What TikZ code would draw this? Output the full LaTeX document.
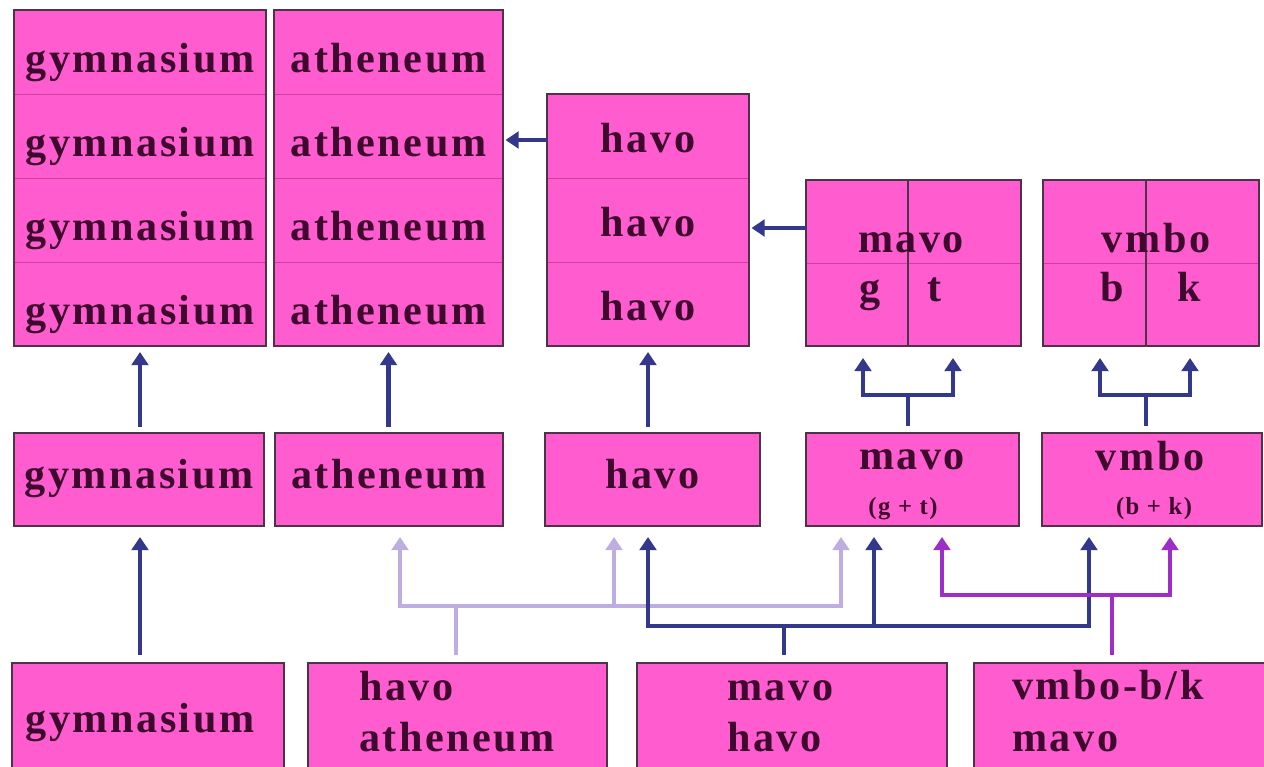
\documentclass[tikz,border=0pt]{standalone}
\usepackage{fontspec}
\setmainfont{Liberation Serif}
\newfontfamily\boxfont[LetterSpace=6]{Liberation Serif Bold}
\usepackage{tikz}
\usetikzlibrary{arrows.meta,positioning,calc}
\definecolor{ffqqcc}{rgb}{1,0.36,0.81}
\definecolor{ccttaa}{rgb}{0.80,0.25,0.62}
\definecolor{uuttuu}{rgb}{0.30,0.20,0.28}
\definecolor{qqqqtt}{rgb}{0.24,0.04,0.18}
\definecolor{ttttcc}{rgb}{0.20,0.22,0.55}
\definecolor{ccbbee}{rgb}{0.74,0.68,0.88}
\definecolor{aattcc}{rgb}{0.62,0.18,0.78}
\tikzset{
  cell/.style={draw=ccttaa,line width=0.5pt,fill=ffqqcc,text=qqqqtt,inner sep=0pt,outer sep=0pt,
    minimum height=1.68cm,font=\boxfont\fontsize{24}{28}\selectfont,text height=0.84cm,text depth=0pt},
  box/.style={draw=uuttuu,line width=1.1pt,fill=ffqqcc,text=qqqqtt,inner sep=0pt,outer sep=0pt,
    font=\boxfont\fontsize{24}{28}\selectfont},
  midbox/.style={box,minimum height=1.86cm,text height=0.36cm,text depth=0pt},
  lowbox/.style={box,minimum height=2.30cm},
  frame/.style={draw=uuttuu,line width=1.1pt},
  lbl/.style={text=qqqqtt,inner sep=0pt,font=\boxfont\fontsize{24}{28}\selectfont},
  sublbl/.style={text=qqqqtt,inner sep=0pt,font=\boxfont\fontsize{14}{16}\selectfont},
  conn/.style={line width=2.4pt},
  tip/.style={-{Triangle[length=7.5pt,width=9.5pt]}}
}
\begin{document}
\begin{tikzpicture}[line cap=butt,line join=miter,x=1.0cm,y=1.0cm]
  \useasboundingbox (0,0) rectangle (25.28,15.32);
  \clip (0,0) rectangle (25.28,15.32);
  % upper stacks
  \node[cell,minimum width=5.04cm] (gymA) at (2.80,14.28) {gymnasium};
  \node[cell,minimum width=5.04cm,below=0pt of gymA] (gymB) {gymnasium};
  \node[cell,minimum width=5.04cm,below=0pt of gymB] (gymC) {gymnasium};
  \node[cell,minimum width=5.04cm,below=0pt of gymC] (gymD) {gymnasium};
  \draw[frame] (gymA.north west) rectangle (gymD.south east);
  \node[cell,minimum width=4.58cm] (athA) at (7.77,14.28) {atheneum};
  \node[cell,minimum width=4.58cm,below=0pt of athA] (athB) {atheneum};
  \node[cell,minimum width=4.58cm,below=0pt of athB] (athC) {atheneum};
  \node[cell,minimum width=4.58cm,below=0pt of athC] (athD) {atheneum};
  \draw[frame] (athA.north west) rectangle (athD.south east);
  \node[cell,minimum width=4.04cm,text height=0.68cm] (havoA) at (12.96,12.60) {havo};
  \node[cell,minimum width=4.04cm,text height=0.68cm,below=0pt of havoA] (havoB) {havo};
  \node[cell,minimum width=4.04cm,text height=0.68cm,below=0pt of havoB] (havoC) {havo};
  \draw[frame] (havoA.north west) rectangle (havoC.south east);
  % mavo and vmbo grids
  \node[cell,minimum width=2.04cm,minimum height=1.66cm,anchor=north west] (mavoTL) at (16.12,11.72) {};
  \node[cell,minimum width=2.26cm,minimum height=1.66cm,right=0pt of mavoTL] (mavoTR) {};
  \node[cell,minimum width=2.04cm,minimum height=1.66cm,below=0pt of mavoTL] (mavoBL) {};
  \node[cell,minimum width=2.26cm,minimum height=1.66cm,below=0pt of mavoTR] (mavoBR) {};
  \draw[frame] (mavoTL.north west) rectangle (mavoBR.south east);
  \draw[draw=uuttuu,line width=0.8pt] (mavoTL.north east) -- (mavoBL.south east);
  \node[lbl,anchor=base] (mavoName) at (18.22,10.27) {mavo};
  \node[lbl,anchor=base] (mavoG) at (17.40,9.28) {g};
  \node[lbl,anchor=base] (mavoT) at (18.70,9.28) {t};
  \node[cell,minimum width=2.06cm,minimum height=1.66cm,anchor=north west] (vmboTL) at (20.86,11.72) {};
  \node[cell,minimum width=2.26cm,minimum height=1.66cm,right=0pt of vmboTL] (vmboTR) {};
  \node[cell,minimum width=2.06cm,minimum height=1.66cm,below=0pt of vmboTL] (vmboBL) {};
  \node[cell,minimum width=2.26cm,minimum height=1.66cm,below=0pt of vmboTR] (vmboBR) {};
  \draw[frame] (vmboTL.north west) rectangle (vmboBR.south east);
  \draw[draw=uuttuu,line width=0.8pt] (vmboTL.north east) -- (vmboBL.south east);
  \node[lbl,anchor=base] (vmboName) at (23.12,10.27) {vmbo};
  \node[lbl,anchor=base] (vmboB) at (22.24,9.28) {b};
  \node[lbl,anchor=base] (vmboK) at (23.78,9.28) {k};
  % middle row
  \node[midbox,minimum width=5.00cm] (gymM) at (2.78,5.73) {gymnasium};
  \node[midbox,minimum width=4.56cm] (athM) at (7.78,5.73) {atheneum};
  \node[midbox,minimum width=4.30cm] (havoM) at (13.05,5.73) {havo};
  \node[midbox,minimum width=4.26cm] (mavoM) at (18.25,5.73) {};
  \node[lbl,anchor=base] (mavoMName) at (18.24,5.92) {mavo};
  \node[sublbl,anchor=base] (mavoMSub) at (18.06,5.02) {(g + t)};
  \node[midbox,minimum width=4.40cm] (vmboM) at (23.04,5.73) {};
  \node[lbl,anchor=base] (vmboMName) at (23.00,5.90) {vmbo};
  \node[sublbl,anchor=base] (vmboMSub) at (23.08,5.02) {(b + k)};
  % lower row
  \node[lowbox,minimum width=5.44cm] (gymLow) at (2.96,0.91) {};
  \node[lbl,anchor=base] (gymLowName) at (2.80,0.68) {gymnasium};
  \node[lowbox,minimum width=5.98cm] (havoAth) at (9.15,0.91) {};
  \node[lbl,anchor=base west] (havoAthA) at (7.18,1.32) {havo};
  \node[lbl,anchor=base west] (havoAthB) at (7.18,0.30) {atheneum};
  \node[lowbox,minimum width=6.20cm] (mavoHavo) at (15.84,0.91) {};
  \node[lbl,anchor=base west] (mavoHavoA) at (14.54,1.32) {mavo};
  \node[lbl,anchor=base west] (mavoHavoB) at (14.54,0.30) {havo};
  \node[lowbox,minimum width=5.92cm] (vmboMavo) at (22.44,0.91) {};
  \node[lbl,anchor=base west] (vmboMavoA) at (20.24,1.34) {vmbo-b/k};
  \node[lbl,anchor=base west] (vmboMavoB) at (20.24,0.30) {mavo};
  % sideways arrows
  \draw[conn,ttttcc,tip,shorten >=0.05cm] ([yshift=-0.08cm]havoA.west) -- ([yshift=-0.08cm]havoA.west -| athB.east);
  \draw[conn,ttttcc,tip,shorten >=0.05cm] ([yshift=-0.13cm]mavoTL.west) -- ([yshift=-0.13cm]mavoTL.west -| havoB.east);
  % middle to upper
  \draw[conn,ttttcc,tip,shorten <=0.12cm,shorten >=0.12cm] (gymD.south |- gymM.north) -- (gymD.south);
  \draw[conn,ttttcc,tip,shorten <=0.12cm,shorten >=0.12cm] (athD.south |- athM.north) -- (athD.south);
  \draw[conn,ttttcc,tip,shorten <=0.12cm,shorten >=0.12cm] (havoC.south |- havoM.north) -- (havoC.south);
  \coordinate (mavoJ) at ($(mavoBL.south east)+(0,-0.98)$);
  \draw[conn,ttttcc,shorten <=0.14cm] (mavoM.north -| mavoJ) -- (mavoJ);
  \draw[conn,ttttcc,tip,shorten >=0.24cm] (mavoJ) -| ($(mavoBL.south east)+(-0.90,0)$);
  \draw[conn,ttttcc,tip,shorten >=0.24cm] (mavoJ) -| ($(mavoBL.south east)+(0.90,0)$);
  \coordinate (vmboJ) at ($(vmboBL.south east)+(0,-0.98)$);
  \draw[conn,ttttcc,shorten <=0.14cm] (vmboM.north -| vmboJ) -- (vmboJ);
  \draw[conn,ttttcc,tip,shorten >=0.24cm] (vmboJ) -| ($(vmboBL.south east)+(-0.92,0)$);
  \draw[conn,ttttcc,tip,shorten >=0.24cm] (vmboJ) -| ($(vmboBL.south east)+(0.88,0)$);
  % lower to middle
  \draw[conn,ttttcc,tip,shorten <=0.16cm,shorten >=0.22cm] (gymLow.north -| gymD.south) -- (gymM.south -| gymD.south);
  \coordinate (havoAthJ) at ($(havoAth.north)+(-0.03,1.14)$);
  \draw[conn,ccbbee,shorten <=0.16cm] (havoAth.north -| havoAthJ) -- (havoAthJ);
  \foreach \t/\dx in {athM/0.22,havoM/-0.77,mavoM/-1.43}
    \draw[conn,ccbbee,tip,shorten >=0.22cm] (havoAthJ) -| ([xshift=\dx cm]\t.south);
  \coordinate (mavoHavoJ) at ($(mavoHavo.north)+(-0.16,0.74)$);
  \draw[conn,ttttcc,shorten <=0.16cm] (mavoHavo.north -| mavoHavoJ) -- (mavoHavoJ);
  \foreach \t/\dx in {havoM/-0.09,mavoM/-0.77,vmboM/-1.26}
    \draw[conn,ttttcc,tip,shorten >=0.22cm] (mavoHavoJ) -| ([xshift=\dx cm]\t.south);
  \coordinate (vmboMavoJ) at ($(vmboMavo.north)+(-0.20,1.36)$);
  \draw[conn,aattcc,shorten <=0.16cm] (vmboMavo.north -| vmboMavoJ) -- (vmboMavoJ);
  \foreach \t/\dx in {mavoM/0.59,vmboM/0.36}
    \draw[conn,aattcc,tip,shorten >=0.22cm] (vmboMavoJ) -| ([xshift=\dx cm]\t.south);
\end{tikzpicture}
\end{document}
